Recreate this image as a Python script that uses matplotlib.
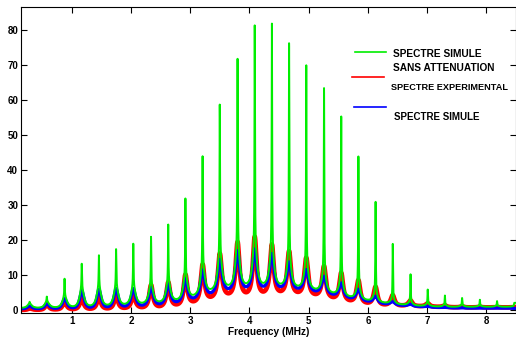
import numpy as np
import matplotlib
matplotlib.use("Agg")
import matplotlib.pyplot as plt
from matplotlib.lines import Line2D

# peak positions (MHz)
peak_freq = [0.29, 0.58, 0.88, 1.17, 1.46, 1.75, 2.04, 2.34, 2.63, 2.92,
             3.21, 3.50, 3.80, 4.09, 4.38, 4.67, 4.96, 5.26, 5.55, 5.84,
             6.13, 6.42, 6.72, 7.01, 7.30, 7.59, 7.89, 8.18, 8.47]

# green: simulated spectrum without attenuation
green_peak = [2.4, 3.9, 9.0, 13.3, 15.7, 17.5, 19.0, 21.0, 24.5, 32.0,
              44.0, 59.0, 72.0, 81.5, 82.0, 76.5, 70.0, 63.5, 55.5, 44.0,
              31.0, 19.0, 10.3, 5.9, 4.2, 3.5, 3.0, 2.6, 2.1]
green_base = [0.7, 0.8, 1.0, 1.3, 1.5, 1.7, 2.0, 2.3, 2.8, 3.6,
              5.3, 6.9, 7.6, 7.8, 7.8, 7.4, 6.7, 5.7, 4.6, 3.5,
              2.6, 1.9, 1.5, 1.2, 1.0, 1.0, 1.0, 1.0, 1.0]

# red: experimental spectrum
red_peak = [0.5, 1.7, 2.5, 3.6, 4.0, 4.4, 4.6, 7.2, 8.0, 10.2,
            13.1, 16.2, 19.5, 21.0, 18.8, 16.9, 15.0, 12.6, 10.7, 8.6,
            6.7, 4.3, 2.8, 2.0, 1.4, 1.1, 1.0, 0.9, 0.9]
red_base = [0.1, 0.2, 0.3, 0.4, 0.5, 0.6, 0.8, 1.0, 1.4, 2.0,
            3.2, 4.6, 5.1, 5.2, 5.5, 5.5, 5.0, 4.3, 3.3, 2.5,
            1.9, 1.5, 1.3, 1.1, 0.9, 0.8, 0.8, 0.8, 0.8]

# blue: simulated spectrum
blue_peak = [1.2, 1.8, 3.3, 5.7, 6.0, 6.2, 6.2, 6.5, 7.5, 9.0,
             11.5, 14.5, 17.0, 17.5, 16.2, 13.8, 11.6, 9.7, 7.8, 6.0,
             4.0, 2.4, 1.7, 1.1, 0.8, 0.7, 0.6, 0.6, 0.5]
blue_base = [0.4, 0.5, 0.6, 0.8, 0.9, 1.1, 1.3, 1.6, 2.1, 2.8,
             4.3, 5.8, 6.6, 6.8, 6.9, 6.6, 6.0, 5.1, 4.1, 3.1,
             2.2, 1.6, 1.2, 0.9, 0.7, 0.6, 0.6, 0.6, 0.6]

f = np.linspace(0.15, 8.5, 9000)
# fractional peak index -> periodic resonance shape (Airy like)
idx = np.interp(f, [0.0] + peak_freq, np.arange(-1, len(peak_freq)))
phase = idx - np.round(idx)


def shape(F):
    a = 1 / (1 + F * np.sin(np.pi * phase) ** 2)
    amin = 1 / (1 + F)
    return (a - amin) / (1 - amin)


def curve(peaks, base, F):
    b = np.interp(f, peak_freq, base)
    p = np.interp(f, peak_freq, peaks)
    return b + (p - b) * shape(F)


red = curve(red_peak, red_base, 6)
blue = curve(blue_peak, blue_base, 4)
green = curve([b + 0.7 for b in blue_peak], green_base, 4)
spike = np.interp(f, peak_freq, [g - b - 0.7 for g, b in zip(green_peak, blue_peak)])
green = green + spike * shape(400)

plt.rcParams['font.family'] = ['Liberation Sans', 'DejaVu Sans']
plt.rcParams['font.weight'] = 'bold'

fig = plt.figure(figsize=(5.16, 3.42), dpi=100)
ax = fig.add_axes([21 / 516, 29 / 342, 495 / 516, 306 / 342])

ax.plot(f, red, color='#ff0000', lw=3.4, solid_joinstyle='round')
ax.plot(f, blue, color='#0000ff', lw=2.3)
ax.plot(f, green, color='#00ee00', lw=1.4)

ax.set_xlim(0.145, 8.5)
ax.set_ylim(-0.8, 86.6)
ax.set_xticks(range(1, 9))
ax.set_yticks(range(0, 81, 10))
ax.tick_params(direction='in', length=4, top=True, right=True, labelsize=7, pad=2)
for lab in ax.get_xticklabels() + ax.get_yticklabels():
    lab.set_fontweight('bold')
ax.set_xlabel('Frequency (MHz)', fontsize=7.3, fontweight='bold', labelpad=1)


def px(x, y):
    return x / 516, 1 - y / 342


# hand placed legend as in the original
legend_items = [
    ('#00ee00', 355, 386, 52, [('SPECTRE SIMULE', 393, 54, 7.3), ('SANS ATTENUATION', 393, 68, 7.3)]),
    ('#ff0000', 352, 384, 77, [('SPECTRE EXPERIMENTAL', 391, 87, 6.6)]),
    ('#0000ff', 354, 386, 107, [('SPECTRE SIMULE', 394, 117, 7.0)]),
]
for col, x1, x2, yl, texts in legend_items:
    a = px(x1, yl)
    b = px(x2, yl)
    fig.add_artist(Line2D([a[0], b[0]], [a[1], b[1]], color=col, lw=1.2,
                          transform=fig.transFigure))
    for s, tx, ty, fs in texts:
        p = px(tx, ty)
        fig.text(p[0], p[1], s, fontsize=fs, fontweight='bold', va='center', ha='left')

fig.savefig('out.png', dpi=100)
